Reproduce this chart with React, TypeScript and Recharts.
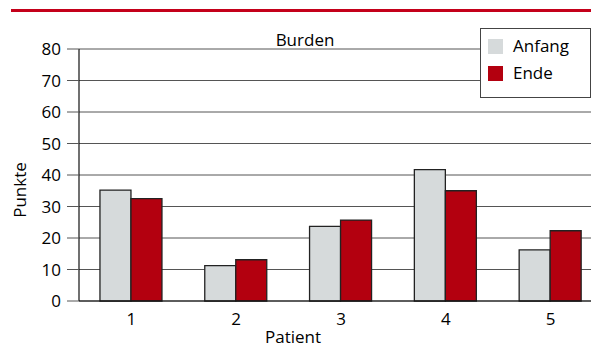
import React from 'react';
import { BarChart, Bar, XAxis, YAxis, CartesianGrid, Legend } from 'recharts';

const patients = ['1', '2', '3', '4', '5'];
const anfang = [35.2, 11.2, 23.7, 41.7, 16.2];
const ende = [32.5, 13.1, 25.7, 35.0, 22.3];
const yTicks = [0, 10, 20, 30, 40, 50, 60, 70, 80];
const boundaryTicks = [1, 2, 3, 4];
const seriesNames = { anfang: 'Anfang', ende: 'Ende' };

const data = patients.map((p, i) => ({ patient: p, anfang: anfang[i], ende: ende[i] }));

const FONT = "'Open Sans', sans-serif";
const GRAY = '#d6dadb';
const RED = '#b3000f';
const INK = '#000';

const LegendBox = () => (
  <div
    style={{
      width: 111,
      height: 70,
      border: '1.5px solid #444',
      background: '#fff',
      boxSizing: 'border-box',
      position: 'relative',
      fontFamily: FONT,
      fontSize: 17,
      fontWeight: 500,
      color: INK,
    }}
  >
    {[
      { name: seriesNames.anfang, color: GRAY, top: 9 },
      { name: seriesNames.ende, color: RED, top: 36 },
    ].map((it) => (
      <div key={it.name} style={{ position: 'absolute', left: 7, top: it.top, display: 'flex', alignItems: 'center', height: 16 }}>
        <span style={{ display: 'inline-block', width: 15, height: 15, background: it.color }} />
        <span style={{ marginLeft: 10, lineHeight: '16px' }}>{it.name}</span>
      </div>
    ))}
  </div>
);

export default function App() {
  return (
    <div style={{ position: 'fixed', left: 0, top: 0, width: 591, height: 346, overflow: 'hidden', background: '#fff' }}>
      <div style={{ position: 'absolute', left: 11, right: 0, top: 9, height: 3, background: '#c4001a' }} />
      <div
        style={{
          position: 'absolute',
          left: 205,
          width: 200,
          top: 31,
          textAlign: 'center',
          fontFamily: FONT,
          fontSize: 17,
          fontWeight: 500,
          lineHeight: '17px',
          color: INK,
        }}
      >
        Burden
      </div>
      <BarChart
        width={628}
        height={346}
        data={data}
        margin={{ top: 49, right: 25, left: 8, bottom: 15 }}
        barCategoryGap="20%"
        barGap={0}
        style={{ position: 'absolute', left: 0, top: 0 }}
      >
        <CartesianGrid vertical={false} stroke="#555" strokeWidth={1} />
        <XAxis
          xAxisId="bounds"
          type="number"
          domain={[0, 5]}
          ticks={boundaryTicks}
          tick={false}
          axisLine={false}
          tickLine={{ stroke: '#111', strokeWidth: 1.2 }}
          tickSize={9}
          height={0}
        />
        <XAxis
          xAxisId="cat"
          dataKey="patient"
          axisLine={{ stroke: '#111', strokeWidth: 1.2 }}
          tickLine={false}
          tickSize={0}
          tickMargin={12}
          height={30}
          tick={{ fontFamily: FONT, fontSize: 17, fontWeight: 500, fill: INK }}
          label={({ viewBox }: any) => (
            <text
              x={viewBox.x + 214}
              y={viewBox.y + 42}
              textAnchor="middle"
              fontFamily={FONT}
              fontSize={17}
              fontWeight={500}
              fill={INK}
            >
              Patient
            </text>
          )}
        />
        <YAxis
          domain={[0, 80]}
          ticks={yTicks}
          width={71}
          axisLine={{ stroke: '#111', strokeWidth: 1.2 }}
          tickLine={{ stroke: '#555' }}
          tickSize={12}
          tickMargin={6}
          interval={0}
          tick={{ fontFamily: FONT, fontSize: 17, fontWeight: 500, fill: INK }}
          label={({ viewBox }: any) => (
            <text
              x={viewBox.x + 18}
              y={viewBox.y + viewBox.height / 2 + 15}
              textAnchor="middle"
              transform={`rotate(-90 ${viewBox.x + 18} ${viewBox.y + viewBox.height / 2 + 15})`}
              fontFamily={FONT}
              fontSize={17}
              fontWeight={500}
              fill={INK}
            >
              Punkte
            </text>
          )}
        />
        <Legend
          layout="horizontal"
          verticalAlign="middle"
          align="center"
          wrapperStyle={{ left: 480, top: 28, width: 111, height: 70 }}
          content={() => <LegendBox />}
        />
        <Bar xAxisId="cat" dataKey="anfang" name={seriesNames.anfang} fill={GRAY} stroke="#222" strokeWidth={1.3} isAnimationActive={false} />
        <Bar xAxisId="cat" dataKey="ende" name={seriesNames.ende} fill={RED} stroke="#222" strokeWidth={1.3} isAnimationActive={false} />
      </BarChart>
    </div>
  );
}
